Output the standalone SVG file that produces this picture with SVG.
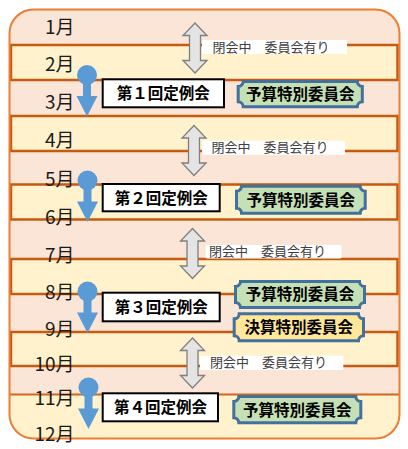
<svg xmlns="http://www.w3.org/2000/svg" width="408" height="449" viewBox="0 0 408 449">
<style>
.band{fill:#FFF2CC;stroke:#C55A11;stroke-width:2.5}
.month{font-family:"Noto Sans CJK JP","Noto Sans",sans-serif;font-size:19px;fill:#1a1a1a;text-anchor:end}
.garrow{fill:#E4E4E4;stroke:#7F7F7F;stroke-width:1.3;stroke-linejoin:miter}
.lbl{fill:#FFFFFF}
.lbltxt{font-family:"Noto Sans CJK JP",sans-serif;font-size:13px;fill:#404040}
.pin{fill:#5B9BD5}
.box{fill:#FFFFFF;stroke:#000000;stroke-width:2}
.boxtxt{font-family:"Noto Sans CJK JP",sans-serif;font-size:15.5px;font-weight:bold;fill:#000;text-anchor:middle}
.plq{stroke:#41719C;stroke-width:3}
.green{fill:#C5E0B4}
.yellow{fill:#FFE699}
</style>
<defs>
<path id="dbl" d="M0,0 L12,12.5 L5.5,12.5 L5.5,37.5 L12,37.5 L0,50 L-12,37.5 L-5.5,37.5 L-5.5,12.5 L-12,12.5 Z"/>
<g id="pinshape">
<circle cx="0" cy="0" r="10"/>
<rect x="-4" y="0" width="8" height="21.5"/>
<polygon points="-10.5,21 10.5,21 0,41.5"/>
</g>
</defs>

<g id="background">
<rect x="9.5" y="9.5" width="390" height="429" rx="24" ry="24" fill="#FBE5D6"/>
<path d="M9.5,394.5 L399.5,394.5 L399.5,414.5 A24,24 0 0 1 375.5,438.5 L33.5,438.5 A24,24 0 0 1 9.5,414.5 Z" fill="#FFF2CC"/>
<line x1="9.5" y1="394.5" x2="399.5" y2="394.5" stroke="#D2671D" stroke-width="2"/>
<rect class="band" x="11" y="45" width="386.5" height="35"/>
<rect class="band" x="11" y="116" width="386.5" height="35"/>
<rect class="band" x="11" y="184.5" width="386.5" height="35"/>
<rect class="band" x="11" y="259" width="386.5" height="35"/>
<rect class="band" x="11" y="332" width="386.5" height="34"/>
<rect x="9.5" y="9.5" width="390" height="429" rx="24" ry="24" fill="none" stroke="#ED7D31" stroke-width="2"/>
</g>

<g id="recess-labels">
<rect class="lbl" x="202" y="40" width="145" height="14" rx="1.5"/>
<text class="lbltxt" x="212.5" y="51.5">閉会中　委員会有り</text>
<rect class="lbl" x="202" y="140.7" width="143" height="14" rx="1.5"/>
<text class="lbltxt" x="211.5" y="152">閉会中　委員会有り</text>
<rect class="lbl" x="205.5" y="245" width="136" height="13.5" rx="1.5"/>
<text class="lbltxt" x="209" y="256">閉会中　委員会有り</text>
<rect class="lbl" x="200" y="355.7" width="143.3" height="14.3" rx="1.5"/>
<text class="lbltxt" x="210" y="367">閉会中　委員会有り</text>
</g>

<g id="connectors">
<use href="#dbl" class="garrow" transform="translate(195,23)"/>
<use href="#dbl" class="garrow" transform="translate(194,125.5)"/>
<use href="#dbl" class="garrow" transform="translate(192.5,228.5)"/>
<use href="#dbl" class="garrow" transform="translate(192.5,338)"/>
<use href="#pinshape" class="pin" transform="translate(87,75)"/>
<use href="#pinshape" class="pin" transform="translate(87.5,180.5)"/>
<use href="#pinshape" class="pin" transform="translate(87.5,291.5)"/>
<use href="#pinshape" class="pin" transform="translate(88.5,387.5)"/>
</g>

<g id="session1">
<rect class="box" x="102.7" y="79.3" width="121.3" height="28"/>
<text class="boxtxt" x="163.3" y="99.2">第１回定例会</text>
</g>
<g id="session2">
<rect class="box" x="102.7" y="184" width="117" height="27.3"/>
<text class="boxtxt" x="161.2" y="203.6">第２回定例会</text>
</g>
<g id="session3">
<rect class="box" x="102.7" y="292.7" width="117" height="28.6"/>
<text class="boxtxt" x="161.2" y="312.9">第３回定例会</text>
</g>
<g id="session4">
<rect class="box" x="102.7" y="393.3" width="115.3" height="28"/>
<text class="boxtxt" x="160.4" y="413.2">第４回定例会</text>
</g>

<g id="budget1">
<path class="plq green" d="M243.2,81.5 L357.3,81.5 A5,5 0 0 0 362.3,86.5 L362.3,101.8 A5,5 0 0 0 357.3,106.8 L243.2,106.8 A5,5 0 0 0 238.2,101.8 L238.2,86.5 A5,5 0 0 0 243.2,81.5 Z"/>
<text class="boxtxt" x="300.3" y="100">予算特別委員会</text>
</g>
<g id="budget2">
<path class="plq green" d="M241.5,186.2 L360.2,186.2 A5,5 0 0 0 365.2,191.2 L365.2,208.2 A5,5 0 0 0 360.2,213.2 L241.5,213.2 A5,5 0 0 0 236.5,208.2 L236.5,191.2 A5,5 0 0 0 241.5,186.2 Z"/>
<text class="boxtxt" x="300.8" y="205.6">予算特別委員会</text>
</g>
<g id="budget3">
<path class="plq green" d="M240.5,281.5 L359.5,281.5 A5,5 0 0 0 364.5,286.5 L364.5,302.5 A5,5 0 0 0 359.5,307.5 L240.5,307.5 A5,5 0 0 0 235.5,302.5 L235.5,286.5 A5,5 0 0 0 240.5,281.5 Z"/>
<text class="boxtxt" x="300" y="300.4">予算特別委員会</text>
</g>
<g id="settlement">
<path class="plq yellow" d="M239.2,313.8 L358.5,313.8 A5,5 0 0 0 363.5,318.8 L363.5,335.8 A5,5 0 0 0 358.5,340.8 L239.2,340.8 A5,5 0 0 0 234.2,335.8 L234.2,318.8 A5,5 0 0 0 239.2,313.8 Z"/>
<text class="boxtxt" x="298.8" y="333.2">決算特別委員会</text>
</g>
<g id="budget4">
<path class="plq green" d="M238.8,396.5 L355.8,396.5 A5,5 0 0 0 360.8,401.5 L360.8,417.8 A5,5 0 0 0 355.8,422.8 L238.8,422.8 A5,5 0 0 0 233.8,417.8 L233.8,401.5 A5,5 0 0 0 238.8,396.5 Z"/>
<text class="boxtxt" x="297.3" y="415.5">予算特別委員会</text>
</g>

<g id="months">
<text class="month" x="74.5" y="34">1月</text>
<text class="month" x="74.5" y="71">2月</text>
<text class="month" x="74.5" y="108.5">3月</text>
<text class="month" x="74.5" y="147">4月</text>
<text class="month" x="74.5" y="185.5">5月</text>
<text class="month" x="74.5" y="223.5">6月</text>
<text class="month" x="74.5" y="262">7月</text>
<text class="month" x="74.5" y="299">8月</text>
<text class="month" x="74.5" y="335.5">9月</text>
<text class="month" x="74.5" y="370.5">10月</text>
<text class="month" x="74.5" y="404.5">11月</text>
<text class="month" x="74.5" y="441">12月</text>
</g>
</svg>
